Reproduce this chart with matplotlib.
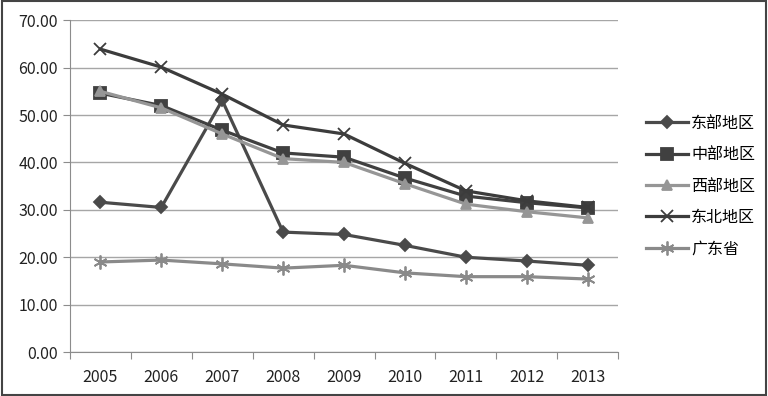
import matplotlib.pyplot as plt
from matplotlib.patches import Rectangle
from matplotlib.ticker import FixedLocator, FormatStrFormatter
import numpy as np

plt.rcParams['font.family'] = ['Noto Sans CJK SC', 'DejaVu Sans']

years = ['2005', '2006', '2007', '2008', '2009', '2010', '2011', '2012', '2013']
east = [31.6, 30.5, 53.1, 25.3, 24.8, 22.5, 20.0, 19.2, 18.3]
central = [54.6, 52.0, 46.8, 42.0, 41.1, 36.7, 32.9, 31.5, 30.4]
west = [55.0, 51.5, 46.0, 40.8, 40.0, 35.5, 31.2, 29.6, 28.3]
northeast = [63.9, 60.1, 54.4, 47.9, 46.0, 39.8, 34.0, 31.9, 30.5]
guangdong = [19.0, 19.4, 18.6, 17.7, 18.3, 16.7, 15.9, 15.9, 15.4]

series = [
    ('东部地区', east, '#4a4a4a', 'D', 6),
    ('中部地区', central, '#404040', 's', 8),
    ('西部地区', west, '#969696', '^', 7),
    ('东北地区', northeast, '#3c3c3c', 'x', 9),
    ('广东省', guangdong, '#8a8a8a', (6, 2, 0), 10),
]

fig = plt.figure(figsize=(7.68, 3.96), dpi=100)
ax = fig.add_axes([0.091, 0.111, 0.714, 0.838])
x = np.arange(len(years))

for name, vals, col, mk, ms in series:
    ax.plot(x, vals, color=col, lw=2.3, marker=mk, markersize=ms,
            markeredgecolor=col, markerfacecolor=col, markeredgewidth=1.3, label=name)

ax.set_xlim(-0.5, len(years) - 0.5)
ax.set_ylim(0, 70)
ax.set_yticks(np.arange(0, 71, 10))
ax.yaxis.set_major_formatter(FormatStrFormatter('%.2f'))
ax.grid(axis='y', color='#a6a6a6', lw=1)
ax.set_axisbelow(True)

ax.xaxis.set_major_locator(FixedLocator(np.arange(-0.5, len(years), 1)))
ax.xaxis.set_minor_locator(FixedLocator(x))
ax.set_xticklabels([])
ax.set_xticklabels(years, minor=True)
ax.tick_params(axis='x', which='major', length=5, color='#8c8c8c')
ax.tick_params(axis='x', which='minor', length=0, pad=12, labelsize=11.5, labelcolor='#222222')
ax.tick_params(axis='y', length=5, color='#8c8c8c', labelsize=11.5, labelcolor='#222222')

for s in ['top', 'right']:
    ax.spines[s].set_visible(False)
for s in ['left', 'bottom']:
    ax.spines[s].set_color('#8c8c8c')

ax.legend(loc='center left', bbox_to_anchor=(1.025, 0.5), frameon=False,
          fontsize=11.5, labelspacing=0.9, handlelength=2.6, handletextpad=0.2)

fig.patches.append(Rectangle((0.002, 0.003), 0.996, 0.994, transform=fig.transFigure,
                             fill=False, edgecolor='#444444', lw=1.5))

fig.savefig('out.png', dpi=100)
